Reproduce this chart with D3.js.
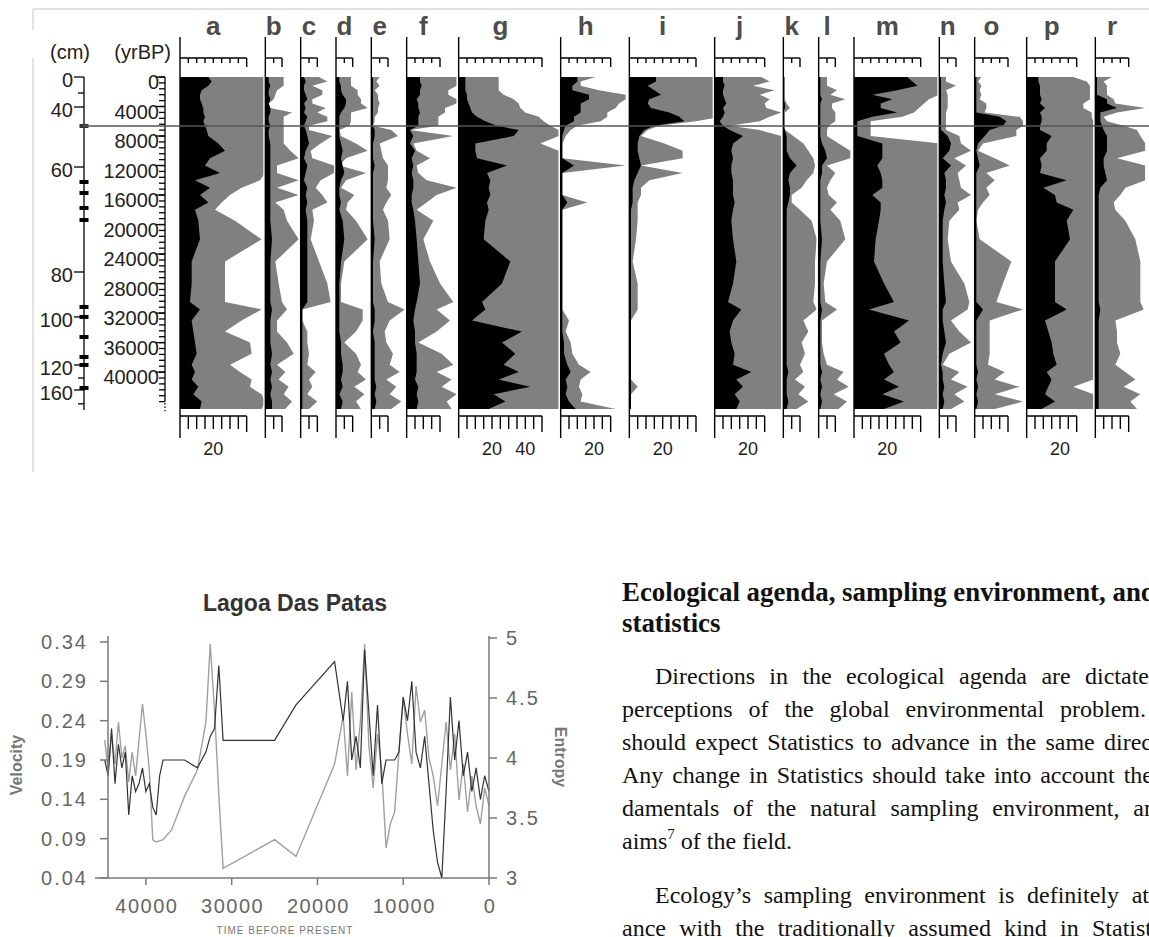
<!DOCTYPE html>
<html>
<head>
<meta charset="utf-8">
<style>
  body { margin: 0; background: #fff; }
  svg { display: block; }
  text { font-family: "Liberation Sans", Arial, sans-serif; }
  .serif { font-family: "Liberation Serif", "Times New Roman", serif; font-size: 24px; fill: #111; }
  .head { font-weight: bold; }
</style>
</head>
<body>
<svg id="page" width="1149" height="937"></svg>

<script src="https://cdn.jsdelivr.net/npm/d3@7/dist/d3.min.js"></script>
<script>
// ---------- pollen diagram ----------
const taxa     = ["a","b","c","d","e","f","g","h","i","j","k","l","m","n","o","p","r"];
const spanPct  = [50, 20, 20, 20, 20, 30, 60, 40, 50, 40, 20, 20, 50, 20, 30, 40, 30];
const scaleMax = [40, 10, 10, 10, 10, 20, 50, 30, 40, 30, 10, 10, 40, 10, 20, 30, 20];

// sample ages (yrBP)
const ages = [0,600,1200,1800,2400,3000,3600,4200,4800,5400,6000,6600,7200,8000,9000,10000,11000,12000,13000,14000,
  15000,16000,17000,18000,19500,22000,25000,28000,30500,31500,33000,34500,36000,37500,39000,40000,41000,42000,43000,44000,45000];

// percentages: black = main curve, gray = exaggerated curve
const aBlack = [17,19,17,13,12,12,13,14,14,15,14,15,16,17,23,27,18,15,24,9,18,12,17,9,11,12,7,7,6,12,7,8,9,10,7,9,7,11,8,13,12];
const aGray  = [51,51,51,51,51,51,51,51,51,51,51,51,51,51,51,51,51,51,51,48,37,30,25,21,33,49,27,27,27,49,37,27,42,43,30,36,43,42,49,51,49];
const bBlack = [2,2,3,2,2,3,2,3,3,2,2,3,2,2,3,3,3,3,3,3,3,3,3,3,3,4,3,3,3,4,3,3,3,4,3,4,3,4,3,4,4];
const bGray  = [11,11,11,7,6,5,2,3,16,11,11,11,11,11,11,15,20,7,7,20,7,20,6,11,13,20,6,8,10,13,7,7,13,17,7,12,8,14,11,16,12];
const cBlack = [2,3,2,2,3,4,2,3,2,4,3,2,3,4,5,3,2,4,3,2,4,3,4,3,4,4,4,4,4,1,1,1,1,1,1,1,1,1,1,1,1];
const cGray  = [11,16,7,13,13,7,7,15,10,16,16,5,5,19,12,6,7,20,20,12,9,13,16,7,8,6,11,16,18,1,1,4,4,5,4,9,5,7,4,10,5];
const dBlack = [2,2,3,3,4,6,6,5,3,2,2,2,2,2,3,4,3,4,5,3,2,2,3,2,4,5,3,2,2,2,2,2,3,3,4,4,3,4,2,4,3];
const dGray  = [9,9,9,13,13,15,15,19,9,9,9,8,2,3,12,19,6,2,18,6,3,11,7,6,12,19,5,3,3,16,16,12,5,12,15,13,18,11,17,12,15];
const eBlack = [1,1,1,1,1,1,1,1,1,1,1,1,2,2,1,1,1,2,1,1,1,1,1,1,1,2,1,1,1,2,2,1,2,2,2,2,2,3,2,3,2];
const eGray  = [5,3,5,2,4,4,5,4,4,2,2,1,12,16,5,6,7,10,10,10,9,12,9,7,10,11,5,6,10,20,11,8,9,13,11,17,9,15,11,18,12];
const fBlack = [8,8,9,8,8,6,7,7,8,7,7,7,2,4,2,5,3,4,3,4,4,3,3,4,5,6,7,8,6,5,4,5,5,6,6,6,5,7,6,7,6];
const fGray  = [30,30,30,25,25,30,30,23,23,19,19,19,2,28,4,6,14,6,7,12,30,18,12,6,16,10,14,20,28,18,26,18,7,21,28,18,27,21,30,24,27];
const gBlack = [4,4,4,4,5,5,6,7,8,11,16,23,36,33,10,10,11,29,17,19,18,19,17,18,16,15,31,26,14,16,8,38,26,34,27,36,24,43,21,28,18];
const gGray  = [24,24,24,24,27,33,36,37,40,48,51,55,60,60,49,60,60,60,60,60,60,60,60,60,60,60,60,60,60,60,60,60,60,60,60,60,60,60,60,60,60];
const hBlack = [10,10,7,7,17,17,12,12,12,8,8,3,2,1,1,1,1,8,1,1,1,1,4,1,1,1,1,1,1,1,1,1,2,2,4,6,3,4,3,5,9];
const hGray  = [21,12,12,23,39,39,35,33,28,28,24,10,6,3,1,1,1,39,1,1,1,1,16,1,1,1,1,1,1,1,5,3,6,7,11,18,12,11,13,12,33];
const iBlack = [16,16,11,15,19,12,11,13,24,30,33,15,9,6,5,5,6,7,5,3,2,2,2,1,1,1,1,1,1,1,1,1,1,1,1,1,1,1,1,1,1];
const iGray  = [55,55,55,55,55,55,55,55,55,55,40,18,11,7,21,32,32,7,32,12,7,7,5,5,5,4,2,5,5,5,1,1,1,1,1,1,1,5,1,1,1];
const jBlack = [5,5,6,5,5,6,7,5,6,5,3,5,9,17,11,10,11,10,10,11,11,11,12,11,10,11,13,11,8,16,11,9,10,12,11,22,13,17,12,15,13];
const jGray  = [28,33,23,36,27,33,30,31,40,33,27,9,27,40,40,40,40,40,40,40,40,40,40,40,40,40,40,40,40,40,40,40,40,40,40,40,40,40,40,40,40];
const kBlack = [0,0,0,0,0,0,1,1,0,0,0,0,1,2,2,2,4,8,4,3,4,4,3,2,2,2,2,2,2,2,2,2,2,2,2,3,2,2,2,3,2];
const kGray  = [1,1,1,1,1,1,2,4,1,1,1,1,1,6,12,15,18,19,18,14,11,5,5,10,17,20,19,19,18,20,12,15,11,13,10,12,7,13,9,15,8];
const lBlack = [1,1,1,1,1,2,1,1,1,1,1,1,1,1,2,4,5,2,2,1,1,1,1,1,1,2,1,1,1,2,1,1,1,1,1,2,1,2,1,2,1];
const lGray  = [5,5,5,11,7,16,8,8,10,10,10,6,5,5,12,19,19,5,10,7,5,6,11,7,13,16,5,3,4,11,2,2,2,3,5,15,11,18,9,17,12];
const mBlack = [32,35,38,26,11,23,16,16,26,11,2,2,2,2,17,17,17,14,16,17,17,11,16,16,15,13,12,18,24,9,33,24,28,18,21,24,18,27,17,30,18];
const mGray  = [51,51,51,51,51,45,42,39,36,29,10,10,10,10,51,51,51,51,51,51,51,51,51,51,51,51,51,51,51,51,51,51,51,51,51,51,51,51,51,51,51];
const nBlack = [1,1,1,1,1,1,1,1,1,1,1,1,1,5,7,6,2,7,3,4,4,3,4,3,2,2,2,3,4,2,2,3,4,2,1,2,2,3,2,3,2];
const nGray  = [4,4,10,4,5,5,5,5,4,4,4,4,4,12,13,19,9,16,11,12,13,19,11,12,6,5,7,15,18,17,7,12,19,6,2,12,7,17,9,15,7];
const oBlack = [1,1,1,1,1,1,1,1,1,15,19,17,9,6,2,1,2,3,1,1,1,1,1,1,1,1,1,1,1,5,1,1,1,1,1,2,1,2,1,2,1];
const oGray  = [4,2,4,3,4,3,7,7,6,27,29,29,25,25,5,2,12,21,7,12,7,9,5,2,1,3,22,17,13,29,9,9,9,9,8,18,12,27,12,29,12];
const pBlack = [7,7,8,8,8,9,8,11,8,9,9,8,8,15,12,12,8,9,8,24,10,17,18,28,24,26,17,17,17,24,11,13,15,16,18,12,15,13,11,17,9];
const pGray  = [28,36,38,38,38,38,34,34,39,39,40,40,40,40,40,40,40,40,40,40,40,40,40,40,40,40,40,40,40,40,40,40,40,40,40,40,40,28,40,40,40];
const rBlack = [1,1,1,1,1,7,7,13,3,3,3,4,5,7,7,7,5,5,6,7,3,2,2,2,2,2,2,2,2,3,2,2,2,2,2,2,2,2,2,2,2];
const rGray  = [10,5,7,7,7,11,12,30,13,5,7,17,25,27,30,30,13,30,30,30,18,15,11,12,18,24,27,27,27,29,12,13,13,15,12,18,24,17,27,21,25];

const blackSeries = [aBlack,bBlack,cBlack,dBlack,eBlack,fBlack,gBlack,hBlack,iBlack,jBlack,kBlack,lBlack,mBlack,nBlack,oBlack,pBlack,rBlack];
const graySeries  = [aGray,bGray,cGray,dGray,eGray,fGray,gGray,hGray,iGray,jGray,kGray,lGray,mGray,nGray,oGray,pGray,rGray];

const ageTicks = d3.range(0, 40001, 4000);
const ageMinor = d3.range(0, 44001, 800);
const depthLabels    = [0, 40, 60, 80, 100, 120, 160];
const depthLabelAges = [0, 4070, 12200, 26430, 32520, 39030, 42420];
const depthMinorAges = [2170, 40800, 44300];
const datingAges = [6640, 14230, 15720, 17750, 19380, 31170, 32520, 35240, 37950, 39030, 42150];
const boundaryAge = 6640;

// ---------- Lagoa Das Patas ----------
const times = [44800,44400,44000,43600,43200,42800,42400,42000,41600,41200,40800,40400,40000,39600,39200,38800,38400,38000,
  37000,35500,34000,33000,32500,32000,31500,31000,25000,22500,18000,
  17000,16500,16000,15500,15000,14500,14000,13500,13000,12500,12000,11500,11000,10500,10000,9500,9000,8500,8000,
  7500,7000,6500,6000,5500,5000,4500,4000,3500,3000,2500,2000,1500,1000,500,0];
const velocity = [0.19,0.17,0.23,0.16,0.21,0.18,0.20,0.12,0.17,0.15,0.16,0.18,0.15,0.16,0.13,0.12,0.17,0.19,
  0.19,0.19,0.18,0.20,0.22,0.23,0.31,0.215,0.215,0.26,0.315,
  0.24,0.29,0.19,0.22,0.18,0.33,0.25,0.17,0.26,0.16,0.19,0.19,0.19,0.20,0.27,0.24,0.29,0.20,0.18,
  0.22,0.16,0.10,0.06,0.04,0.15,0.27,0.19,0.24,0.17,0.20,0.15,0.18,0.14,0.17,0.15];
const entropy = [4.15,3.9,4.2,3.95,4.3,4.0,4.1,3.8,4.05,3.85,4.15,4.45,4.2,3.9,3.32,3.3,3.31,3.32,
  3.4,3.68,3.9,4.3,4.95,4.4,3.7,3.08,3.32,3.18,3.95,
  4.35,3.85,4.55,3.9,4.3,4.95,4.1,3.75,4.2,3.9,3.25,3.45,3.55,4.05,4.5,4.2,3.95,4.6,4.3,
  4.4,4.0,3.85,3.6,3.95,4.3,3.9,4.2,3.65,3.95,3.55,3.85,3.6,3.45,3.75,3.6];
const timeTicks = [40000, 30000, 20000, 10000, 0];
const velTicks = [0.04, 0.09, 0.14, 0.19, 0.24, 0.29, 0.34];
const entTicks = [3, 3.5, 4, 4.5, 5];

// ---------- text ----------
const headingLines = ["Ecological agenda, sampling environment, and", "statistics"];
const para1 = ["Directions in the ecological agenda are dictated",
  "perceptions of the global environmental problem.",
  "should expect Statistics to advance in the same direc",
  "Any change in Statistics should take into account the",
  "damentals of the natural sampling environment, an"];
const para2 = ["Ecology\u2019s sampling environment is definitely at",
  "ance with the traditionally assumed kind in Statist"];

const svg = d3.select("#page");

// ===== top diagram =====
const yAge = d3.scaleLinear().domain([0, 45000]).range([77, 409]);
const pct = 5 / 3;          // px per percent
const diag = svg.append("g");

// frame
diag.append("line").attr("x1", 33).attr("x2", 1149).attr("y1", 9).attr("y2", 9).attr("stroke", "#c8c8c8");
diag.append("line").attr("x1", 33).attr("x2", 33).attr("y1", 9).attr("y2", 30).attr("stroke", "#c8c8c8");
diag.append("line").attr("x1", 33).attr("x2", 33).attr("y1", 58).attr("y2", 472).attr("stroke", "#c8c8c8");

let colX = 180;
taxa.forEach((name, i) => {
  const x0 = colX;
  const w = spanPct[i] * pct;
  const x = d3.scaleLinear().domain([0, spanPct[i]]).range([x0, x0 + w]);
  const clipId = "clip-" + name;
  diag.append("clipPath").attr("id", clipId).append("rect")
    .attr("x", x0).attr("y", yAge(0)).attr("width", w).attr("height", yAge(45000) - yAge(0));
  const g = diag.append("g").attr("clip-path", `url(#${clipId})`);
  const area = vals => d3.area().x0(x0).x1((d, j) => x(vals[j])).y(d => yAge(d))(ages);
  g.append("path").attr("d", area(graySeries[i])).attr("fill", "#808080");
  g.append("path").attr("d", area(blackSeries[i])).attr("fill", "#000");

  const ax = diag.append("g").attr("stroke", "#000").attr("stroke-width", 1.4);
  const mx = scaleMax[i];
  ax.append("line").attr("x1", x0).attr("x2", x0).attr("y1", 37).attr("y2", 438);
  ax.append("line").attr("x1", x0).attr("x2", x(mx)).attr("y1", 58).attr("y2", 58);
  ax.append("line").attr("x1", x0).attr("x2", x(mx)).attr("y1", 416).attr("y2", 416);
  d3.range(5, mx + 0.01, 5).forEach(v => {
    ax.append("line").attr("x1", x(v)).attr("x2", x(v)).attr("y1", 58).attr("y2", v === mx ? 67 : 63);
    ax.append("line").attr("x1", x(v)).attr("x2", x(v)).attr("y1", 416).attr("y2", v === mx ? 432 : 429);
  });
  d3.range(20, mx, 20).forEach(v => {
    diag.append("text").attr("x", x(v)).attr("y", 455).attr("text-anchor", "middle")
      .attr("font-size", 18).attr("fill", "#222").text(v);
  });
  diag.append("text").attr("x", x(mx / 2)).attr("y", 35).attr("text-anchor", "middle")
    .attr("font-size", 26).attr("font-weight", "bold").attr("fill", "#4d4d4d").text(name);
  colX += w + 2;
});

// age axis
const ageAx = diag.append("g").attr("stroke", "#000").attr("stroke-width", 1.3);
ageAx.append("line").attr("x1", 165).attr("x2", 165).attr("y1", yAge(0)).attr("y2", yAge(44000));
ageAx.append("line").attr("x1", 165).attr("x2", 165).attr("y1", yAge(44200)).attr("y2", yAge(45300))
  .attr("stroke-dasharray", "1.5,2");
ageMinor.forEach(a => ageAx.append("line").attr("x1", 159).attr("x2", 165).attr("y1", yAge(a)).attr("y2", yAge(a)));
ageTicks.forEach(a => {
  ageAx.append("line").attr("x1", 155).attr("x2", 165).attr("y1", yAge(a)).attr("y2", yAge(a));
  diag.append("text").attr("x", 159).attr("y", yAge(a) + 12).attr("text-anchor", "end")
    .attr("font-size", 20).attr("fill", "#222").text(a);
});

// depth axis
const depAx = diag.append("g").attr("stroke", "#000").attr("stroke-width", 1.3);
depAx.append("line").attr("x1", 84).attr("x2", 84).attr("y1", yAge(0)).attr("y2", yAge(45000) + 1);
depthMinorAges.forEach(a => depAx.append("line").attr("x1", 78).attr("x2", 84).attr("y1", yAge(a)).attr("y2", yAge(a)));
depthLabels.forEach((dv, k) => {
  const yy = yAge(depthLabelAges[k]);
  depAx.append("line").attr("x1", 74).attr("x2", 84).attr("y1", yy).attr("y2", yy);
  diag.append("text").attr("x", 73).attr("y", yy + 10).attr("text-anchor", "end")
    .attr("font-size", 20).attr("fill", "#222").text(dv);
});
datingAges.forEach(a => {
  diag.append("rect").attr("x", 79.5).attr("y", yAge(a) - 2).attr("width", 9).attr("height", 4)
    .attr("fill", a === boundaryAge ? "#333" : "#000");
});
diag.append("text").attr("x", 90).attr("y", 59).attr("text-anchor", "end").attr("font-size", 20).attr("fill", "#222").text("(cm)");
diag.append("text").attr("x", 171).attr("y", 59).attr("text-anchor", "end").attr("font-size", 20).attr("fill", "#222").text("(yrBP)");

// zone boundary
diag.append("line").attr("x1", 83).attr("x2", 1149).attr("y1", yAge(boundaryAge)).attr("y2", yAge(boundaryAge))
  .attr("stroke", "#555").attr("stroke-width", 1.5);

// ===== Lagoa Das Patas =====
const lc = svg.append("g");
const tx = d3.scaleLinear().domain([45000, 0]).range([103, 489]);
const vy = d3.scaleLinear().domain([0.04, 0.34]).range([878, 642]);
const ey = d3.scaleLinear().domain([3, 5]).range([878, 638]);
const axisCol = "#7a7a7a", labCol = "#666";

lc.append("path").datum(times)
  .attr("d", d3.line().x(t => tx(t)).y((t, j) => ey(entropy[j])))
  .attr("fill", "none").attr("stroke", "#a0a0a0").attr("stroke-width", 1.4);
lc.append("path").datum(times)
  .attr("d", d3.line().x(t => tx(t)).y((t, j) => vy(velocity[j])))
  .attr("fill", "none").attr("stroke", "#333").attr("stroke-width", 1.2);

const axG = lc.append("g").attr("stroke", axisCol).attr("stroke-width", 1.5);
axG.append("line").attr("x1", 108).attr("x2", 108).attr("y1", 636).attr("y2", vy(0.04));
axG.append("line").attr("x1", 489).attr("x2", 489).attr("y1", 636).attr("y2", vy(0.04));
axG.append("line").attr("x1", 95).attr("x2", 489).attr("y1", vy(0.04)).attr("y2", vy(0.04));
velTicks.forEach(v => {
  axG.append("line").attr("x1", 100).attr("x2", 108).attr("y1", vy(v)).attr("y2", vy(v));
  lc.append("text").attr("x", 88).attr("y", vy(v) + 7).attr("text-anchor", "end")
    .attr("font-size", 20).attr("letter-spacing", 2).attr("fill", labCol).text(v.toFixed(2));
});
entTicks.forEach(v => {
  axG.append("line").attr("x1", 489).attr("x2", 497).attr("y1", ey(v)).attr("y2", ey(v));
  lc.append("text").attr("x", 506).attr("y", ey(v) + 7).attr("font-size", 20)
    .attr("letter-spacing", 2).attr("fill", labCol).text(v);
});
timeTicks.forEach(t => {
  axG.append("line").attr("x1", tx(t)).attr("x2", tx(t)).attr("y1", vy(0.04)).attr("y2", vy(0.04) + 7);
  lc.append("text").attr("x", tx(t) + 1).attr("y", 913).attr("text-anchor", "middle")
    .attr("font-size", 20).attr("letter-spacing", 1.5).attr("fill", labCol).text(t);
});
lc.append("text").attr("x", 295).attr("y", 611).attr("text-anchor", "middle")
  .attr("font-size", 23).attr("font-weight", "bold").attr("fill", "#333").text("Lagoa Das Patas");
lc.append("text").attr("transform", "translate(22,765) rotate(-90)").attr("text-anchor", "middle")
  .attr("font-size", 16).attr("font-weight", "bold").attr("fill", "#777").text("Velocity");
lc.append("text").attr("transform", "translate(555,757) rotate(90)").attr("text-anchor", "middle")
  .attr("font-size", 16).attr("font-weight", "bold").attr("fill", "#777").text("Entropy");
lc.append("text").attr("x", 285).attr("y", 934).attr("text-anchor", "middle")
  .attr("font-size", 10).attr("letter-spacing", 1).attr("fill", "#777").text("TIME BEFORE PRESENT");

// ===== text column =====
const tg = svg.append("g");
function wordWidths(words, cls) {
  return words.map(w => {
    const t = tg.append("text").attr("class", cls).text(w);
    const wd = t.node().getComputedTextLength();
    t.remove();
    return wd;
  });
}
function justify(str, x, yb, right, cls) {
  const words = str.split(" ");
  const ws = wordWidths(words, cls);
  const gap = (right - x - d3.sum(ws)) / (words.length - 1);
  let cx = x;
  words.forEach((w, k) => {
    tg.append("text").attr("class", cls).attr("x", cx).attr("y", yb).text(w);
    cx += ws[k] + gap;
  });
}
// heading, sized to run to the page edge
const probe = tg.append("text").attr("class", "serif head").text(headingLines[0]);
const headSize = 24 * 534 / probe.node().getComputedTextLength();
probe.remove();
headingLines.forEach((s, k) => {
  tg.append("text").attr("class", "serif head").attr("x", 622).attr("y", 601 + k * 31)
    .style("font-size", Math.min(28, headSize) + "px").text(s);
});
const p1Right = [1161, 1146, 1152, 1153, 1156];
para1.forEach((s, k) => justify(s, k === 0 ? 655 : 622, 684 + k * 33, p1Right[k], "serif"));
const last = tg.append("text").attr("class", "serif").attr("x", 622).attr("y", 684 + 5 * 33);
last.append("tspan").text("aims");
last.append("tspan").attr("dy", -10).style("font-size", "15px").text("7");
last.append("tspan").attr("dy", 10).text(" of the field.");
const p2Right = [1149, 1152];
para2.forEach((s, k) => justify(s, k === 0 ? 655 : 622, 903 + k * 33, p2Right[k], "serif"));
</script>
</body>
</html>
